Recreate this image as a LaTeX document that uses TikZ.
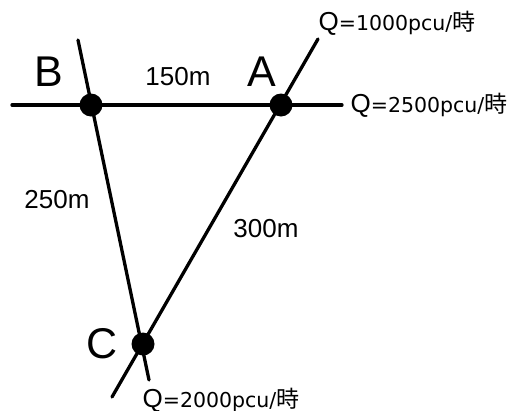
\documentclass[tikz,border=0pt]{standalone}
\usepackage{fontspec}
\setmainfont{Liberation Sans}
\newfontfamily\qfont{DejaVu Sans}
\newfontfamily\jp{Noto Sans CJK JP}
\newcommand{\qlab}[1]{{\fontsize{26}{26}\selectfont Q}{\qfont\fontsize{20.5}{20.5}\selectfont =#1pcu/}{\jp\fontsize{23}{23}\selectfont 時}}
\begin{document}
\begin{tikzpicture}[x=1pt,y=-1pt,
  road/.style={line width=3.3pt,line cap=round},
  junction/.style={circle,fill=black,inner sep=0pt,minimum size=23pt},
  bigletter/.style={font=\fontsize{43}{43}\selectfont,inner sep=0pt},
  dist/.style={font=\fontsize{26}{26}\selectfont,inner sep=0pt},
  flow/.style={inner sep=0pt,anchor=center}]
\useasboundingbox (0,0) rectangle (511,410);
\coordinate (hl) at (12,105);
\coordinate (hr) at (342,105);
\coordinate (bt) at (78,40);
\coordinate (cb) at (149,380);
\coordinate (at) at (318,39);
\coordinate (ab) at (112,397);
\draw[road] (hl) -- (hr);
\draw[road] (bt) -- (cb);
\draw[road] (at) -- (ab);
\node[junction] (B) at (91,105) {};
\node[junction] (A) at (281,105) {};
\node[junction] (C) at (143,344) {};
\node[bigletter] (lB) at (49,72) {B};
\node[bigletter] (lA) at (262,72) {A};
\node[bigletter] (lC) at (102,344) {C};
\node[dist] (d150) at (178,77) {150m};
\node[dist] (d250) at (57,200) {250m};
\node[dist] (d300) at (266,229) {300m};
\node[flow] (q1) at (397,23) {\qlab{1000}};
\node[flow] (q2) at (429,105) {\qlab{2500}};
\node[flow] (q3) at (221,400) {\qlab{2000}};
\end{tikzpicture}
\end{document}
